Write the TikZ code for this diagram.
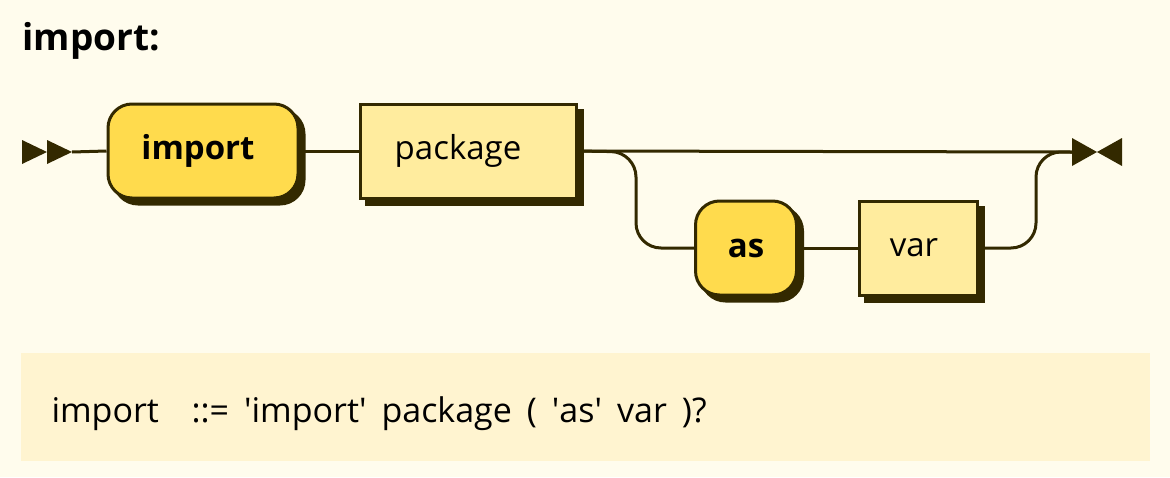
\documentclass[tikz,border=0pt]{standalone}
\usepackage{fontspec}
\setmainfont{Open Sans}
\usetikzlibrary{positioning, shapes, arrows, shadows}
\definecolor{bgcol}{HTML}{FFFCED}
\definecolor{boxcol}{HTML}{FFF4D0}
\definecolor{linecol}{HTML}{332900}
\definecolor{termcol}{HTML}{FFDB4D}
\definecolor{ntermcol}{HTML}{FFEC9E}
\newcommand{\sq}{\textquotesingle}

\begin{document}
\begin{tikzpicture}[x=1pt,y=-1pt,line width=3pt,draw=linecol,
  boxshadow/.style={general shadow={fill=linecol,draw=linecol,shadow xshift=6pt,shadow yshift=-6pt}},
  term/.style={draw=linecol,fill=termcol,rounded corners=24pt,minimum height=94pt,inner sep=0pt,
    boxshadow,font=\fontsize{33}{40}\selectfont\bfseries,text=black},
  nterm/.style={draw=linecol,fill=ntermcol,minimum height=94pt,inner sep=0pt,
    boxshadow,font=\fontsize{33}{40}\selectfont,text=black},
  rule/.style={anchor=base west,font=\fontsize{34}{40}\selectfont,inner sep=0pt}]
\useasboundingbox (0,0) rectangle (1170,477);
\fill[bgcol] (0,0) rectangle (1170,477);
\node[anchor=base west,inner sep=0pt,font=\fontsize{37}{44}\selectfont\bfseries] (title) at (21,50) {import:};

% rail
\node[term,minimum width=190pt] (imp) at (203,151) {\hspace*{-10pt}import};
\node[nterm,minimum width=216pt] (pkg) at (468,151) {\hspace*{-20pt}package};
\node[term,minimum width=101pt] (asn) at (746,248) {as};
\node[nterm,minimum width=118pt] (varn) at (918,248) {\hspace*{-8pt}var};
\coordinate (start) at (72,152);
\coordinate (fork) at (636,152);
\coordinate (join) at (1036,152);
\coordinate (finish) at (1072,152);

\fill[linecol] (22,140) -- (47,152) -- (22,164) -- cycle;
\fill[linecol] (47,140) -- (72,152) -- (47,164) -- cycle;
\fill[linecol] (1072,138) -- (1097,152) -- (1072,166) -- cycle;
\fill[linecol] (1122,138) -- (1097,152) -- (1122,166) -- cycle;

\draw (start) -- (imp.west);
\draw (imp.east) -- (pkg.west);
\draw (pkg.east) -- (finish);
\draw[rounded corners=25pt] (pkg.east) -- (fork) |- (asn.west);
\draw (asn.east) -- (varn.west);
\draw[rounded corners=25pt] (varn.east) -| (join) -- (finish);

% grammar
\fill[boxcol] (21,353) rectangle (1150,461);
\node[rule] (lhs) at (50,422) {import};
\node[rule] (rhs) at (190,422)
  {\spaceskip=15pt ::= \sq import\sq{} package ( \sq as\sq{} var )?};
\end{tikzpicture}
\end{document}
